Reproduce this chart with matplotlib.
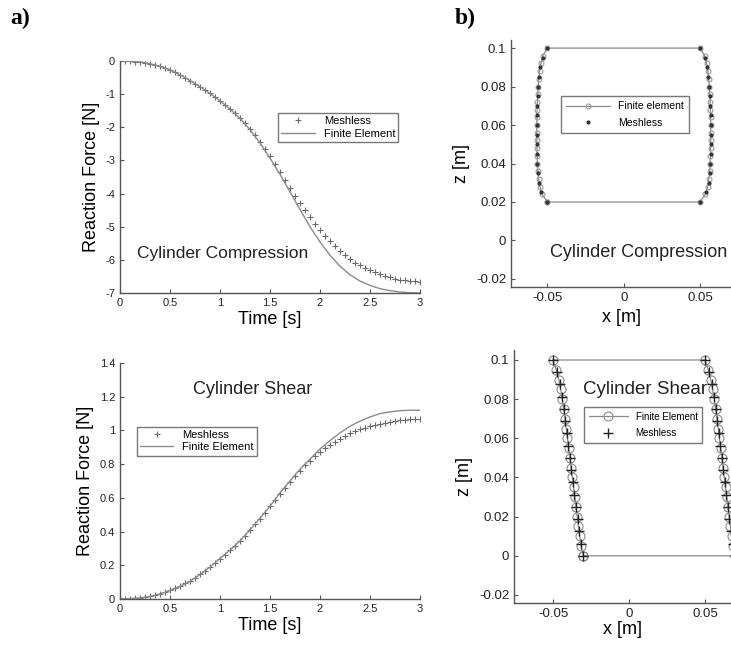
import numpy as np
import matplotlib
matplotlib.use("Agg")
import matplotlib.pyplot as plt
from matplotlib.ticker import FormatStrFormatter

plt.rcParams['font.family'] = ['Liberation Sans', 'DejaVu Sans']

# ---- reaction force, cylinder compression ----
t_fe = np.round(np.arange(0, 3.01, 0.1), 2)
comp_fe = [0, -0.01, -0.03, -0.08, -0.16, -0.27, -0.42, -0.59, -0.78, -0.98,
           -1.20, -1.45, -1.73, -2.07, -2.47, -2.93, -3.42, -3.95, -4.48, -5.00,
           -5.46, -5.86, -6.19, -6.45, -6.64, -6.77, -6.87, -6.93, -6.97, -6.99, -7.00]
t_ml = np.round(np.arange(0, 3.001, 0.05), 3)
comp_ml = [0, 0, -0.01, -0.02, -0.03, -0.05, -0.08, -0.12, -0.16, -0.21,
           -0.27, -0.34, -0.42, -0.50, -0.59, -0.68, -0.78, -0.88, -0.98, -1.09,
           -1.20, -1.32, -1.45, -1.58, -1.72, -1.88, -2.05, -2.24, -2.44, -2.65,
           -2.87, -3.10, -3.34, -3.58, -3.82, -4.06, -4.29, -4.51, -4.72, -4.92,
           -5.11, -5.28, -5.44, -5.59, -5.73, -5.86, -5.98, -6.08, -6.17, -6.25,
           -6.32, -6.38, -6.44, -6.49, -6.53, -6.57, -6.60, -6.62, -6.64, -6.65, -6.66]

# ---- reaction force, cylinder shear ----
shear_fe = [0, 0.002, 0.006, 0.015, 0.03, 0.05, 0.075, 0.105, 0.145, 0.19,
            0.24, 0.29, 0.345, 0.41, 0.48, 0.55, 0.63, 0.70, 0.77, 0.83,
            0.89, 0.94, 0.985, 1.025, 1.055, 1.08, 1.10, 1.11, 1.117, 1.12, 1.12]
shear_ml = [0, 0.001, 0.002, 0.004, 0.007, 0.011, 0.016, 0.023, 0.031, 0.041,
            0.052, 0.064, 0.078, 0.093, 0.109, 0.127, 0.147, 0.168, 0.19, 0.214,
            0.238, 0.263, 0.289, 0.316, 0.345, 0.376, 0.408, 0.442, 0.477, 0.513,
            0.55, 0.588, 0.625, 0.661, 0.696, 0.73, 0.762, 0.792, 0.82, 0.846,
            0.87, 0.893, 0.914, 0.934, 0.952, 0.968, 0.982, 0.995, 1.006, 1.016,
            1.025, 1.033, 1.040, 1.046, 1.051, 1.056, 1.060, 1.063, 1.066, 1.068, 1.070]

# ---- deformed shape, compression (left side; right side mirrored) ----
zc_fe = [0.02, 0.024, 0.028, 0.032, 0.036, 0.040, 0.044, 0.048, 0.052, 0.056, 0.060,
         0.064, 0.068, 0.072, 0.076, 0.080, 0.084, 0.088, 0.092, 0.096, 0.1]
xc_fe = [-0.0500, -0.0535, -0.0550, -0.0558, -0.0563, -0.0566, -0.0568, -0.0569,
         -0.0570, -0.0570, -0.0570, -0.0569, -0.0568, -0.0566, -0.0564, -0.0561,
         -0.0557, -0.0551, -0.0543, -0.0530, -0.0500]
zc_ml = [0.02, 0.025, 0.03, 0.035, 0.04, 0.045, 0.05, 0.055, 0.06, 0.065, 0.07,
         0.075, 0.08, 0.085, 0.09, 0.095, 0.1]
xc_ml = [-0.0500, -0.0542, -0.0556, -0.0563, -0.0567, -0.0569, -0.0570, -0.0570,
         -0.0570, -0.0569, -0.0567, -0.0564, -0.0561, -0.0555, -0.0546, -0.0530, -0.0500]

# ---- deformed shape, shear (left side; right side shifted by 0.1) ----
zs_fe = [0.0, 0.005, 0.01, 0.015, 0.02, 0.025, 0.03, 0.035, 0.04, 0.045, 0.05,
         0.055, 0.06, 0.065, 0.07, 0.075, 0.08, 0.085, 0.09, 0.095, 0.1]
xs_fe = [-0.0300, -0.0316, -0.0325, -0.0333, -0.0341, -0.0349, -0.0357, -0.0365,
         -0.0373, -0.0381, -0.0389, -0.0397, -0.0405, -0.0413, -0.0421, -0.0430,
         -0.0439, -0.0450, -0.0462, -0.0478, -0.0500]
zs_ml = [0.0, 0.00625, 0.0125, 0.01875, 0.025, 0.03125, 0.0375, 0.04375, 0.05,
         0.05625, 0.0625, 0.06875, 0.075, 0.08125, 0.0875, 0.09375, 0.1]
xs_ml = [-0.0300, -0.0319, -0.0329, -0.0339, -0.0349, -0.0359, -0.0369, -0.0379,
         -0.0389, -0.0399, -0.0409, -0.0419, -0.0430, -0.0444, -0.0456, -0.0473, -0.0500]

W, H = 731, 646
fig = plt.figure(figsize=(W / 100, H / 100), dpi=100)

def px_axes(l, t, r, b):
    return fig.add_axes([l / W, 1 - b / H, (r - l) / W, (b - t) / H])

def matlab_style(ax, fs):
    for s in ['top', 'right']:
        ax.spines[s].set_visible(False)
    for s in ['left', 'bottom']:
        ax.spines[s].set_color('#555555')
        ax.spines[s].set_linewidth(1.0)
    ax.tick_params(direction='in', length=3, width=0.8, colors='#555555',
                   labelcolor='#222222', labelsize=fs)

line_c = '#8a8a8a'
mark_c = '#6a6a6a'

# a) top: compression force
ax1 = px_axes(120, 61, 420, 293)
ax1.plot(t_ml, comp_ml, '+', color=mark_c, ms=4, mew=0.8, label='Meshless')
ax1.plot(t_fe, comp_fe, '-', color=line_c, lw=1.0, label='Finite Element')
ax1.set_xlim(0, 3)
ax1.set_ylim(-7, 0)
ax1.set_xticks(np.arange(0, 3.01, 0.5))
ax1.set_yticks(np.arange(-7, 0.1, 1))
ax1.xaxis.set_major_formatter(FormatStrFormatter('%g'))
ax1.yaxis.set_major_formatter(FormatStrFormatter('%g'))
matlab_style(ax1, 8)
ax1.set_xlabel('Time [s]', fontsize=13, labelpad=2)
ax1.set_ylabel('Reaction Force [N]', fontsize=13, labelpad=4)
ax1.text(0.057, 0.172, 'Cylinder Compression', transform=ax1.transAxes,
         fontsize=12.5, va='center', ha='left', color='#222222')
ax1.legend(loc='upper left', bbox_to_anchor=(0.527, 0.776), fontsize=8,
           frameon=True, fancybox=False, edgecolor='#555555', handlelength=3,
           borderpad=0.3, labelspacing=0.2, borderaxespad=0)

# a) bottom: shear force
ax2 = px_axes(120, 363, 420, 599)
ax2.plot(t_ml, shear_ml, '+', color=mark_c, ms=4, mew=0.8, label='Meshless')
ax2.plot(t_fe, shear_fe, '-', color=line_c, lw=1.0, label='Finite Element')
ax2.set_xlim(0, 3)
ax2.set_ylim(0, 1.4)
ax2.set_xticks(np.arange(0, 3.01, 0.5))
ax2.set_yticks(np.arange(0, 1.41, 0.2))
ax2.xaxis.set_major_formatter(FormatStrFormatter('%g'))
ax2.yaxis.set_major_formatter(FormatStrFormatter('%g'))
matlab_style(ax2, 8)
ax2.set_xlabel('Time [s]', fontsize=13, labelpad=2)
ax2.set_ylabel('Reaction Force [N]', fontsize=13, labelpad=4)
ax2.text(0.244, 0.889, 'Cylinder Shear', transform=ax2.transAxes,
         fontsize=13, va='center', ha='left', color='#222222')
ax2.legend(loc='upper left', bbox_to_anchor=(0.056, 0.73), fontsize=8,
           frameon=True, fancybox=False, edgecolor='#555555', handlelength=3,
           borderpad=0.3, labelspacing=0.2, borderaxespad=0)

# b) top: compression shape
ax3 = px_axes(511, 40, 731, 287)
xl = np.array(xc_fe)
zl = np.array(zc_fe)
out_x = np.concatenate([xl, -xl[::-1], xl[:1]])
out_z = np.concatenate([zl, zl[::-1], zl[:1]])
ax3.plot(out_x, out_z, '-o', color=line_c, lw=0.9, ms=3.5, mfc='none',
         mec='#9a9a9a', mew=0.8, label='Finite element')
mx = np.array(xc_ml)
ax3.plot(np.concatenate([mx, -mx]), np.concatenate([zc_ml, zc_ml]), '.',
         color='#333333', ms=4, label='Meshless')
ax3.set_xlim(-0.0739, 0.0703)
ax3.set_ylim(-0.0242, 0.1042)
ax3.set_xticks([-0.05, 0, 0.05])
ax3.set_yticks(np.round(np.arange(-0.02, 0.101, 0.02), 2))
ax3.xaxis.set_major_formatter(FormatStrFormatter('%g'))
ax3.yaxis.set_major_formatter(FormatStrFormatter('%g'))
matlab_style(ax3, 9.5)
ax3.set_xlabel('x [m]', fontsize=13, labelpad=4)
ax3.set_ylabel('z [m]', fontsize=13, labelpad=4)
ax3.text(0.177, 0.139, 'Cylinder Compression', transform=ax3.transAxes,
         fontsize=13, va='center', ha='left', color='#222222')
ax3.legend(loc='upper left', bbox_to_anchor=(0.226, 0.773), fontsize=7.5,
           frameon=True, fancybox=False, edgecolor='#555555', handlelength=4.2,
           borderpad=0.5, labelspacing=0.6, borderaxespad=0)

# b) bottom: shear shape
ax4 = px_axes(514, 350, 731, 603)
sl = np.array(xs_fe)
szl = np.array(zs_fe)
sh_x = np.concatenate([sl, sl[::-1] + 0.1, sl[:1]])
sh_z = np.concatenate([szl, szl[::-1], szl[:1]])
ax4.plot(sh_x, sh_z, '-o', color=line_c, lw=0.9, ms=6.5, mfc='none',
         mec='#8a8a8a', mew=0.8, label='Finite Element')
smx = np.array(xs_ml)
ax4.plot(np.concatenate([smx, smx + 0.1]), np.concatenate([zs_ml, zs_ml]), '+',
         color='#222222', ms=7, mew=1.0, label='Meshless')
ax4.set_xlim(-0.0757, 0.0671)
ax4.set_ylim(-0.0241, 0.1051)
ax4.set_xticks([-0.05, 0, 0.05])
ax4.set_yticks(np.round(np.arange(-0.02, 0.101, 0.02), 2))
ax4.xaxis.set_major_formatter(FormatStrFormatter('%g'))
ax4.yaxis.set_major_formatter(FormatStrFormatter('%g'))
matlab_style(ax4, 9.5)
ax4.set_xlabel('x [m]', fontsize=13, labelpad=1)
ax4.set_ylabel('z [m]', fontsize=13, labelpad=4)
ax4.text(0.319, 0.842, 'Cylinder Shear', transform=ax4.transAxes,
         fontsize=13.5, va='center', ha='left', color='#222222')
ax4.legend(loc='upper left', bbox_to_anchor=(0.323, 0.776), fontsize=7,
           frameon=True, fancybox=False, edgecolor='#555555', handlelength=4,
           borderpad=0.5, labelspacing=0.7, borderaxespad=0)

fig.text(10 / W, 1 - 18 / H, 'a)', fontsize=17, fontweight='bold',
         family='Liberation Serif', va='center', ha='left')
fig.text(455 / W, 1 - 18 / H, 'b)', fontsize=17, fontweight='bold',
         family='Liberation Serif', va='center', ha='left')

fig.savefig('out.png', dpi=100)
